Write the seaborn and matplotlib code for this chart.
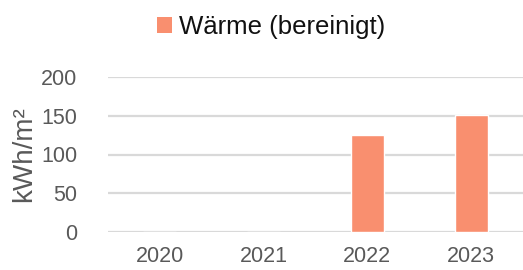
import matplotlib
matplotlib.use("Agg")
import matplotlib.pyplot as plt
import seaborn as sns
import pandas as pd
from matplotlib.patches import Patch

years = ["2020", "2021", "2022", "2023"]
waerme = [0, 0, 125, 151]
series_name = "Wärme (bereinigt)"
y_ticks = [0, 50, 100, 150, 200]
y_label = "kWh/m²"

sns.set_theme(style="white")
plt.rcParams['font.family'] = ['Liberation Sans', 'DejaVu Sans']

df = pd.DataFrame({"Jahr": years, "Wert": waerme})
color = "#F98F6F"

fig = plt.figure(figsize=(5.23, 2.70), dpi=100)
ax = fig.add_axes([108/523, 1-232/270, 415/523, (232-77)/270])
sns.barplot(data=df, x="Jahr", y="Wert", color=color, width=0.32, ax=ax, saturation=1)

ax.set_ylim(0, 200)
ax.set_yticks(y_ticks)
ax.yaxis.grid(True, color="#D9D9D9", linewidth=1.6)
ax.set_axisbelow(True)
for s in ax.spines.values():
    s.set_visible(False)
ax.tick_params(axis="both", length=0, labelsize=15.5, colors="#595959")
ax.tick_params(axis="y", pad=22)
ax.tick_params(axis="x", pad=10)
ax.set_xlabel("")
ax.set_ylabel(y_label, fontsize=20, color="#595959", labelpad=3)

handles = [Patch(facecolor=color, edgecolor="none", label=series_name)]
fig.legend(handles=handles, loc="center", bbox_to_anchor=(271/523, 1-27/270),
           frameon=False, fontsize=18.5, handlelength=0.6, handleheight=0.6,
           handletextpad=0.25, labelcolor="#111111")

fig.savefig("out.png", dpi=100)
